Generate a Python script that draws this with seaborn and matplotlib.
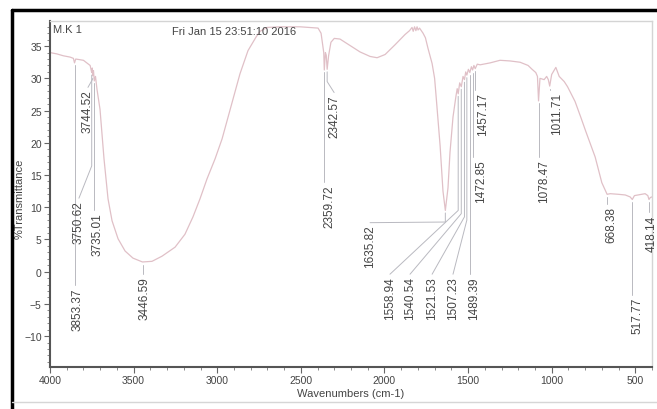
import numpy as np
import matplotlib
matplotlib.use('Agg')
import matplotlib.pyplot as plt
from matplotlib.lines import Line2D
from matplotlib.ticker import MultipleLocator
import seaborn as sns

# spectrum (wavenumber cm-1, %T)
wavenumber = [4000, 3960, 3920, 3880, 3860, 3853.4, 3846, 3800, 3775, 3760, 3750.6, 3747,
              3744.5, 3740, 3735, 3728, 3719, 3701, 3677, 3653, 3629, 3593, 3551, 3504,
              3447, 3390, 3330, 3252, 3193, 3145, 3103, 3061, 3013, 2971, 2935, 2906,
              2864, 2816, 2768, 2744, 2702, 2624, 2505, 2397, 2379, 2363, 2359.7, 2353,
              2348, 2342.6, 2334, 2320, 2300, 2266, 2206, 2146, 2086, 2044, 1996, 1937,
              1877, 1850, 1835, 1828, 1820, 1812, 1805, 1799, 1790, 1769, 1755, 1739,
              1715, 1700, 1691, 1667, 1650, 1635.8, 1620, 1608, 1590, 1572, 1565, 1558.9,
              1550, 1540.5, 1530, 1521.5, 1514, 1507.2, 1498, 1489.4, 1480, 1472.9, 1465,
              1457.2, 1445, 1428, 1368, 1309, 1249, 1189, 1141, 1117, 1095, 1085, 1078.5,
              1070, 1045, 1030, 1020, 1011.7, 1000, 975, 955, 925, 905, 860, 825, 795,
              740, 700, 675, 668.4, 650, 600, 560, 531, 517.8, 505, 483, 441, 425, 418.1,
              410, 400]
transmittance = [34.0, 33.8, 33.5, 33.3, 33.1, 32.4, 33.0, 32.8, 32.3, 32.0, 30.9, 31.6,
                 30.4, 31.2, 29.6, 30.3, 28.3, 25.2, 17.5, 11.3, 7.9, 5.1, 3.2, 2.1,
                 1.5, 1.6, 2.4, 3.8, 5.8, 8.5, 11.3, 14.4, 17.5, 20.6, 24.0, 26.8,
                 30.7, 34.3, 36.4, 37.3, 37.9, 38.0, 38.0, 37.8, 37.0, 34.0, 31.3, 34.0,
                 33.6, 31.4, 33.5, 35.6, 36.2, 36.1, 35.1, 34.1, 33.4, 33.2, 33.7, 35.2,
                 36.8, 37.4, 37.9, 37.3, 38.0, 37.4, 38.0, 37.5, 37.8, 37.0, 36.3, 34.6,
                 32.3, 30.0, 27.2, 19.5, 12.5, 9.5, 13.0, 18.5, 24.0, 27.3, 28.4, 27.6,
                 29.3, 28.7, 30.3, 29.8, 31.0, 30.5, 31.4, 30.9, 31.8, 31.3, 32.0,
                 31.5, 32.2, 32.1, 32.4, 32.8, 32.7, 32.5, 32.0, 31.4, 30.9, 30.3, 26.5,
                 30.0, 29.8, 30.3, 29.8, 28.8, 30.6, 31.7, 30.3, 29.5, 28.7, 26.4, 23.9, 21.7,
                 17.8, 13.8, 12.4, 12.0, 12.1, 12.0, 11.9, 11.6, 11.2, 11.8, 11.9, 12.1, 11.8, 11.2,
                 11.5, 11.6]

# peak labels
peak_text = ['3853.37', '3750.62', '3744.52', '3735.01', '3446.59', '2359.72', '2342.57',
             '1635.82', '1558.94', '1540.54', '1521.53', '1507.23', '1489.39', '1472.85',
             '1457.17', '1078.47', '1011.71', '668.38', '517.77', '418.14']
peak_wn = [3853.37, 3750.62, 3744.52, 3735.01, 3446.59, 2359.72, 2342.57,
           1635.82, 1558.94, 1540.54, 1521.53, 1507.23, 1489.39, 1472.85,
           1457.17, 1078.47, 1011.71, 668.38, 517.77, 418.14]
label_wn = [3838, 3827, 3773, 3713, 3432, 2331, 2301,
            2086, 1967, 1847, 1715, 1590, 1465, 1425,
            1410, 1046, 968, 645, 489, 404]
label_top = [-2.4, 11.1, 28.3, 9.2, -0.7, 13.6, 27.5,
             7.3, -0.7, -0.7, -0.7, -0.7, -0.7, 17.5,
             27.9, 17.5, 27.9, 10.2, -3.9, 8.9]
# where the leader bends towards its label (None = goes straight down)
elbow = [None, 16.4, 29.9, None, None, None, 29.5,
         7.7, 9.5, 9.0, 8.5, 8.0, None, None,
         None, None, None, None, None, None]

sns.set_style('white')
plt.rcParams['font.family'] = ['Liberation Sans', 'DejaVu Sans']

fig = plt.figure(figsize=(6.57, 4.10), dpi=100)
ax = fig.add_axes([50/657, 1-368/410, 602/657, 346/410])

sns.lineplot(x=wavenumber, y=transmittance, ax=ax, color='#e0c0c7', linewidth=0.9, sort=False)

wn_arr = np.array(wavenumber)[::-1]
t_arr = np.array(transmittance)[::-1]
for txt, pw, lw_, top, el in zip(peak_text, peak_wn, label_wn, label_top, elbow):
    start = np.interp(pw, wn_arr, t_arr) - 0.4
    if el is None:
        xs, ys = [pw, pw], [start, top + 0.3]
    else:
        xs, ys = [pw, pw, lw_], [start, el, top + 0.3]
    ax.plot(xs, ys, color='#b9b9c0', linewidth=0.7, clip_on=False)
    ax.text(lw_, top, txt, rotation=90, ha='center', va='top', fontsize=8.5,
            color='#444444', clip_on=False)

ax.text(3982, 37.6, 'M.K 1', fontsize=8, color='#444444', va='center', ha='left')
ax.text(3270, 37.3, 'Fri Jan 15 23:51:10 2016', fontsize=8, color='#444444', va='center', ha='left')

ax.set_xlim(4000, 400)
ax.set_ylim(-14.8, 38.9)
ax.xaxis.set_major_locator(MultipleLocator(500))
ax.xaxis.set_minor_locator(MultipleLocator(100))
ax.yaxis.set_major_locator(MultipleLocator(5))
ax.yaxis.set_minor_locator(MultipleLocator(1))
ax.tick_params(which='major', direction='out', length=4, width=0.8, color='#666666',
               labelsize=7.5, labelcolor='#444444', pad=2, left=True, bottom=True)
ax.tick_params(which='minor', direction='out', length=2, width=0.6, color='#777777',
               left=True, bottom=True)
ax.set_xlabel('Wavenumbers (cm-1)', fontsize=8, color='#444444', labelpad=2)
ax.set_ylabel('%Transmittance', fontsize=8, color='#444444')
ax.yaxis.set_label_coords(-0.042, 0.49)

for side in ['left', 'bottom']:
    ax.spines[side].set_color('#555555')
    ax.spines[side].set_linewidth(1.5)
for side in ['top', 'right']:
    ax.spines[side].set_color('#d4d4d4')
    ax.spines[side].set_linewidth(1.0)

# scan border
fig.add_artist(Line2D([12/657, 1], [1-11/410, 1-11/410], color='black', linewidth=2.5,
                      transform=fig.transFigure))
fig.add_artist(Line2D([12/657, 12/657], [0, 1-11/410], color='black', linewidth=2.5,
                      transform=fig.transFigure))
fig.add_artist(Line2D([12/657, 1], [1-403/410, 1-403/410], color='#d6d6d6', linewidth=1.0,
                      transform=fig.transFigure))

fig.savefig('out.png', dpi=100)
